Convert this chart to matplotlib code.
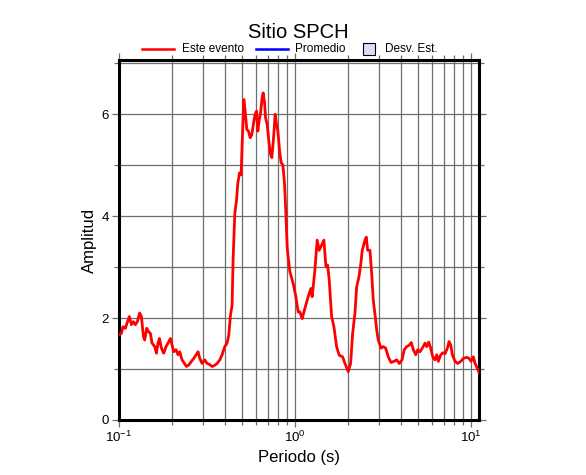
import numpy as np
import matplotlib
matplotlib.use("Agg")
import matplotlib.pyplot as plt
from matplotlib.lines import Line2D
from matplotlib.patches import Rectangle
from matplotlib.ticker import LogLocator, FixedLocator, NullFormatter

plt.rcParams['font.family'] = ['Liberation Sans', 'DejaVu Sans']

title = "Sitio SPCH"
xlabel = "Periodo (s)"
ylabel = "Amplitud"
legend_labels = ["Este evento", "Promedio", "Desv. Est."]

periodo = [0.1000, 0.1036, 0.1058, 0.1092, 0.1115, 0.1150, 0.1181, 0.1212, 0.1244, 0.1277,
           0.1316, 0.1346, 0.1382, 0.1405, 0.1443, 0.1481, 0.1514, 0.1546, 0.1602, 0.1638,
           0.1673, 0.1704, 0.1749, 0.1802, 0.1857, 0.1906, 0.1967, 0.2009, 0.2054, 0.2116,
           0.2172, 0.2221, 0.2289, 0.2362, 0.2425, 0.2499, 0.2589, 0.2668, 0.2749, 0.2822,
           0.2886, 0.2974, 0.3081, 0.3175, 0.3276, 0.3389, 0.3498, 0.3619, 0.3749, 0.3863,
           0.4002, 0.4124, 0.4217, 0.4312, 0.4403, 0.4460, 0.4561, 0.4664, 0.4745, 0.4852,
           0.4954, 0.5020, 0.5133, 0.5221, 0.5338, 0.5458, 0.5573, 0.5699, 0.5827, 0.5950,
           0.6060, 0.6164, 0.6270, 0.6386, 0.6521, 0.6607, 0.6729, 0.6818, 0.6962, 0.7118,
           0.7278, 0.7403, 0.7570, 0.7730, 0.7873, 0.8008, 0.8188, 0.8361, 0.8549, 0.8742,
           0.8892, 0.9043, 0.9159, 0.9368, 0.9779, 1.0132, 1.0441, 1.0676, 1.1002, 1.1397,
           1.1900, 1.2327, 1.2538, 1.2987, 1.3385, 1.3741, 1.4179, 1.4613, 1.5001, 1.5339,
           1.5664, 1.6162, 1.6657, 1.7255, 1.7853, 1.8664, 1.9236, 2.0083, 2.0725, 2.1271,
           2.1922, 2.2417, 2.3101, 2.3623, 2.4123, 2.4988, 2.5417, 2.5890, 2.6680, 2.7283,
           2.7860, 2.8746, 2.9119, 2.9742, 3.0807, 3.1747, 3.2760, 3.3893, 3.5112, 3.6517,
           3.7830, 3.9140, 4.0546, 4.1785, 4.3118, 4.4609, 4.5793, 4.7007, 4.8517, 4.9805,
           5.1325, 5.2893, 5.4795, 5.6027, 5.7513, 5.8999, 6.0601, 6.2454, 6.3857, 6.5208,
           6.7289, 6.9072, 7.1182, 7.3358, 7.4989, 7.6676, 7.8297, 8.1113, 8.4025, 8.7417,
           9.0444, 9.4558, 9.7448, 10.000, 10.306, 10.537, 10.859, 11.100]
amplitud = [1.67, 1.70, 1.83, 1.80, 1.90, 2.03, 1.87, 1.93, 1.87, 1.93,
            2.10, 2.03, 1.64, 1.57, 1.80, 1.73, 1.70, 1.51, 1.44, 1.31,
            1.51, 1.60, 1.41, 1.31, 1.44, 1.51, 1.60, 1.47, 1.34, 1.38,
            1.28, 1.34, 1.18, 1.11, 1.05, 1.08, 1.15, 1.21, 1.28, 1.34,
            1.21, 1.11, 1.18, 1.11, 1.09, 1.05, 1.07, 1.11, 1.18, 1.28,
            1.44, 1.51, 1.67, 2.06, 2.25, 3.14, 4.05, 4.31, 4.65, 4.85,
            4.81, 5.40, 6.29, 6.06, 5.70, 5.67, 5.54, 5.60, 5.83, 6.00,
            6.06, 5.67, 5.87, 6.03, 6.33, 6.42, 6.23, 5.93, 5.80, 5.47,
            5.21, 5.15, 5.54, 6.00, 5.80, 5.67, 5.28, 5.05, 5.01, 4.62,
            4.05, 3.40, 3.20, 2.91, 2.68, 2.42, 2.12, 2.12, 1.99, 2.19,
            2.42, 2.58, 2.42, 2.94, 3.53, 3.33, 3.43, 3.53, 3.01, 3.04,
            2.75, 2.03, 1.83, 1.44, 1.27, 1.24, 1.11, 0.95, 1.11, 1.70,
            2.09, 2.61, 2.81, 3.04, 3.33, 3.53, 3.59, 3.33, 3.33, 2.88,
            2.35, 1.96, 1.77, 1.57, 1.41, 1.44, 1.41, 1.24, 1.13, 1.15,
            1.18, 1.11, 1.18, 1.38, 1.44, 1.47, 1.52, 1.38, 1.28, 1.38,
            1.34, 1.41, 1.51, 1.44, 1.53, 1.41, 1.24, 1.18, 1.28, 1.15,
            1.28, 1.32, 1.30, 1.41, 1.54, 1.47, 1.28, 1.15, 1.11, 1.15,
            1.21, 1.23, 1.21, 1.15, 1.24, 1.11, 1.01, 0.93]

x_min, x_max = 0.1, 11.1
y_max = 1.1 * max(amplitud)

fig = plt.figure(figsize=(5.86, 4.75), dpi=100)
ax = fig.add_axes([0.2025, 0.1158, 0.6150, 0.7575])

ax.plot(periodo, amplitud, color='#ff0000', lw=2.0, zorder=3, solid_joinstyle='round')

ax.set_xscale('log')
ax.set_xlim(x_min, x_max)
ax.set_ylim(0, y_max)

ax.xaxis.set_major_locator(LogLocator(base=10, numticks=10))
ax.xaxis.set_minor_locator(LogLocator(base=10, subs=np.arange(2, 10), numticks=20))
ax.xaxis.set_minor_formatter(NullFormatter())
ax.yaxis.set_major_locator(FixedLocator([0, 2, 4, 6]))
ax.yaxis.set_minor_locator(FixedLocator([1, 3, 5, 7]))

ax.grid(True, which='both', axis='x', color='#6e6e6e', lw=0.9)
ax.grid(True, which='both', axis='y', color='#6e6e6e', lw=0.9)
ax.set_axisbelow(True)

ax.tick_params(which='both', direction='out', top=True, right=True,
               color='#6e6e6e', width=0.9, labelsize=9.5, pad=2)
ax.tick_params(which='major', length=5)
ax.tick_params(which='minor', length=3.5)

for s in ax.spines.values():
    s.set_linewidth(2.2)
    s.set_color('black')

ax.set_xlabel(xlabel, fontsize=12, labelpad=4)
ax.set_ylabel(ylabel, fontsize=12, labelpad=3)

# title, centred over the axes
W, H = 586.0, 475.0
fig.text(298.5 / W, 1 - 33 / H, title, ha='center', va='center', fontsize=14.5)

# legend row
ly = 1 - 48.5 / H
fig.add_artist(Line2D([141.5 / W, 174 / W], [ly, ly], color='#ff0000', lw=1.8))
fig.text(181.5 / W, ly, legend_labels[0], ha='left', va='center', fontsize=8.5)
fig.add_artist(Line2D([256 / W, 288 / W], [ly, ly], color='#0000ff', lw=1.8))
fig.text(295 / W, ly, legend_labels[1], ha='left', va='center', fontsize=8.5)
fig.add_artist(Rectangle((363 / W, 1 - 55 / H), 12 / W, 12.5 / H,
                         facecolor='#dcdcfa', edgecolor='black', lw=0.8,
                         transform=fig.transFigure))
fig.text(385 / W, ly, legend_labels[2], ha='left', va='center', fontsize=8.5)

fig.savefig('out.png', dpi=100)
